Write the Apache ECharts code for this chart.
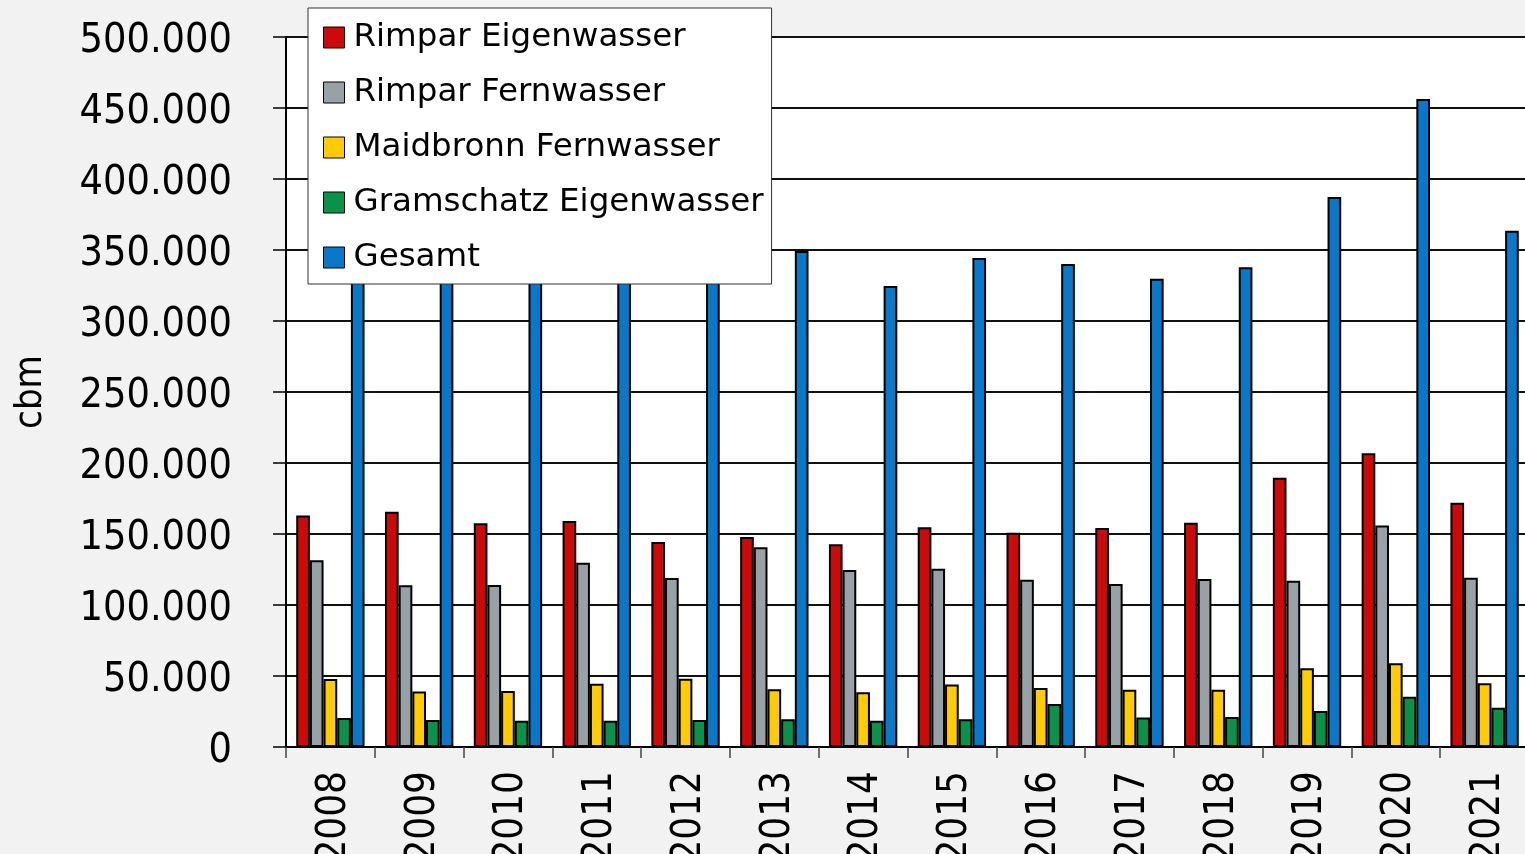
<!DOCTYPE html>
<html>
<head>
<meta charset="utf-8">
<style>
  html, body { margin: 0; padding: 0; background: #f2f2f2; }
  #chart { width: 1525px; height: 854px; }
</style>
<script src="https://cdn.jsdelivr.net/npm/echarts@6/dist/echarts.min.js"></script>
</head>
<body>
<div id="chart"></div>
<script>
// Wasserbezug je Jahr in cbm
const years = ['2008', '2009', '2010', '2011', '2012', '2013', '2014', '2015', '2016', '2017', '2018', '2019', '2020', '2021'];
const rimparEigenwasser = [163000, 165700, 157500, 159200, 144400, 147900, 142700, 154700, 150900, 154200, 158000, 189700, 206800, 172000];
const rimparFernwasser = [131500, 113900, 114000, 129800, 119000, 140600, 124600, 125600, 117800, 114800, 118300, 117100, 155900, 119200];
const maidbronnFernwasser = [47900, 39000, 39400, 44600, 48000, 40600, 38500, 44100, 41500, 40400, 40400, 55400, 58900, 44900];
const gramschatzEigenwasser = [20400, 19000, 18500, 18500, 19000, 19500, 18500, 19500, 30300, 20700, 21100, 25400, 35400, 27700];
const gesamt = [362800, 337600, 329400, 352100, 330400, 349300, 324600, 344400, 340100, 329800, 337800, 387300, 456300, 363600];

const seriesDefs = [
  { name: 'Rimpar Eigenwasser', data: rimparEigenwasser, color: '#cc0a0a' },
  { name: 'Rimpar Fernwasser', data: rimparFernwasser, color: '#98a2a6' },
  { name: 'Maidbronn Fernwasser', data: maidbronnFernwasser, color: '#ffcb05' },
  { name: 'Gramschatz Eigenwasser', data: gramschatzEigenwasser, color: '#0b924a' },
  { name: 'Gesamt', data: gesamt, color: '#0a78c8' }
];

// Tausenderpunkt wie im Deutschen
function fmt(v) {
  return String(v).replace(/\B(?=(\d{3})+(?!\d))/g, '.');
}

const labelFont = 'DejaVu Sans Condensed';

const chart = echarts.init(document.getElementById('chart'));
chart.setOption({
  animation: false,
  backgroundColor: '#f2f2f2',
  grid: {
    left: 286, top: 37, right: -4, bottom: 107,
    outerBoundsMode: 'none',
    containLabel: false,
    show: true, backgroundColor: '#ffffff', borderWidth: 0
  },
  legend: {
    orient: 'vertical',
    left: 308, top: 8,
    backgroundColor: '#ffffff',
    borderColor: '#333333', borderWidth: 1,
    padding: [13, 8, 10, 15],
    itemGap: 22,
    itemWidth: 21, itemHeight: 21,
    icon: 'rect',
    itemStyle: { borderColor: '#000', borderWidth: 1 },
    textStyle: { fontSize: 32.5, fontFamily: 'DejaVu Sans', color: '#000', padding: [0, 0, 0, 4] },
    data: seriesDefs.map(s => s.name)
  },
  xAxis: {
    type: 'category',
    data: years,
    boundaryGap: true,
    axisLine: { lineStyle: { color: '#000', width: 2 } },
    axisTick: { show: true, length: 11, lineStyle: { color: '#444', width: 1.5 } },
    axisLabel: {
      rotate: 90, color: '#000', margin: 24,
      formatter: v => '{y|' + v + '}',
      rich: { y: { fontSize: 40, fontFamily: labelFont, color: '#000', padding: [8, 0, 0, 0] } }
    },
    splitLine: { show: false }
  },
  yAxis: {
    type: 'value',
    min: 0, max: 500000, interval: 50000,
    name: 'cbm',
    nameLocation: 'middle',
    nameRotate: 90,
    nameGap: 236,
    nameTextStyle: { fontSize: 38, fontFamily: labelFont, color: '#000' },
    axisLine: { show: true, lineStyle: { color: '#000', width: 2 } },
    axisTick: { show: true, length: 13, lineStyle: { color: '#000', width: 1.5 } },
    axisLabel: {
      color: '#000', margin: 54,
      formatter: v => '{n|' + fmt(v) + '}',
      rich: { n: { fontSize: 41, fontFamily: labelFont, color: '#000', padding: [8, 0, 0, 0] } }
    },
    splitLine: { show: true, lineStyle: { color: '#111', width: 2 } }
  },
  series: seriesDefs.map(s => ({
    name: s.name,
    type: 'bar',
    data: s.data,
    barGap: '0%',
    barCategoryGap: '23%',
    itemStyle: { color: s.color, borderColor: '#000', borderWidth: 2 }
  }))
});
</script>
</body>
</html>
